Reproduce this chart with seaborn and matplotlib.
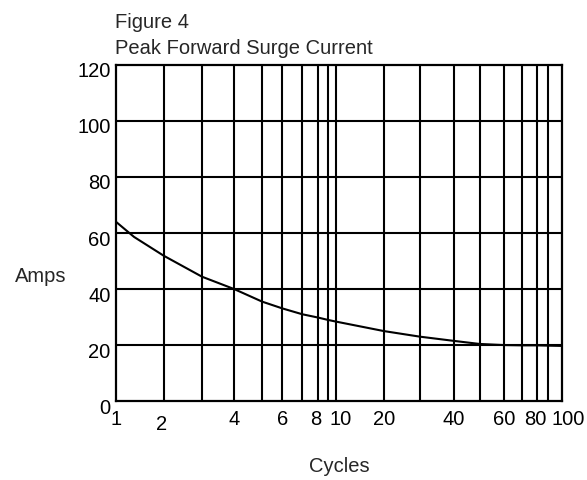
import numpy as np
import matplotlib
matplotlib.use("Agg")
import matplotlib.pyplot as plt
import matplotlib.ticker as mticker
import matplotlib.transforms as mtrans
import seaborn as sns

# data
cycles = [1, 1.3, 2, 3, 4, 5, 6, 7, 8, 9, 10, 20, 30, 40, 50, 60, 70, 80, 90, 100]
amps = [64.0, 58.6, 51.9, 44.4, 40.0, 35.5, 33.1, 31.0, 29.8, 29.0, 28.4,
        25.0, 23.0, 21.5, 20.4, 20.0, 19.9, 19.9, 19.8, 19.7]

grid_x = [1, 2, 3, 4, 5, 6, 7, 8, 9, 10, 20, 30, 40, 50, 60, 70, 80, 90, 100]
label_x = [1, 2, 4, 6, 8, 10, 20, 40, 60, 80, 100]
ticks_y = [0, 20, 40, 60, 80, 100, 120]

# the printed log paper is hand ruled, so the decades are not evenly spaced;
# relative position of each ruled line across the axis
ruled_pos = np.array([0.0, 0.107, 0.193, 0.265, 0.328, 0.373, 0.418, 0.454,
                      0.475, 0.493, 0.601, 0.682, 0.758, 0.816, 0.871,
                      0.911, 0.944, 0.970, 1.0])
ruled_log = np.log10(grid_x)


def fwd(x):
    x = np.clip(np.asarray(x, dtype=float), 1e-6, None)
    return np.interp(np.log10(x), ruled_log, ruled_pos)


def inv(p):
    return 10 ** np.interp(p, ruled_pos, ruled_log)


def nudge(label, dx, dy):
    # shift a tick label by a few pixels (dpi 100 -> 1px = 0.72pt)
    off = mtrans.ScaledTranslation(dx / 100, dy / 100, fig.dpi_scale_trans)
    label.set_transform(label.get_transform() + off)


sns.set_style("white")
plt.rcParams['font.family'] = ['Liberation Sans', 'DejaVu Sans']

fig = plt.figure(figsize=(5.87, 4.81), dpi=100)
ax = fig.add_axes([0.1976, 0.164, 0.7593, 0.699])

ax.set_xscale("function", functions=(fwd, inv))
ax.set_xlim(1, 100)
ax.set_ylim(0, 120)

for v in grid_x[1:-1]:
    ax.axvline(v, color="black", lw=1.5, zorder=1)
for v in ticks_y[1:-1]:
    ax.axhline(v, color="black", lw=1.5, zorder=1)

sns.lineplot(x=cycles, y=amps, ax=ax, color="black", lw=1.5, zorder=3)

ax.xaxis.set_major_locator(mticker.FixedLocator(label_x))
ax.xaxis.set_major_formatter(mticker.FixedFormatter([str(v) for v in label_x]))
ax.xaxis.set_minor_locator(mticker.NullLocator())
ax.set_yticks(ticks_y)
ax.tick_params(length=0, labelsize=14.5, colors="black")
ax.tick_params(axis="x", pad=6)
ax.tick_params(axis="y", pad=4)

for s in ax.spines.values():
    s.set_color("black")
    s.set_linewidth(1.6)
    s.set_visible(True)

xlabels = ax.get_xticklabels()
x_shift = {2: (-2, -5), 8: (-3, 0), 10: (5, 0), 80: (-1, 0), 100: (6, 0)}
for v, lab in zip(label_x, xlabels):
    if v in x_shift:
        nudge(lab, *x_shift[v])
for lab in ax.get_yticklabels():
    nudge(lab, 0, -4)

fig.text(115 / 587, 1 - 28 / 481, "Figure 4", fontsize=14.5, ha="left", va="baseline")
fig.text(115 / 587, 1 - 54 / 481, "Peak Forward Surge Current", fontsize=14.5,
         ha="left", va="baseline")
fig.text(15 / 587, 1 - 282 / 481, "Amps", fontsize=14.5, ha="left", va="baseline")
fig.text(339 / 587, 1 - 472 / 481, "Cycles", fontsize=14.5, ha="center", va="baseline")

fig.savefig("out.png", dpi=100, facecolor="white")
